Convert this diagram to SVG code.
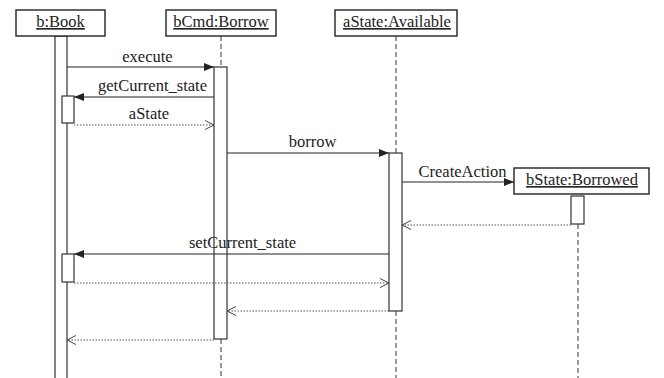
<svg xmlns="http://www.w3.org/2000/svg" width="664" height="378" viewBox="0 0 664 378">
  <style>
    text { font-family: "Liberation Serif", "Times New Roman", Times, Tinos, "Noto Serif", "DejaVu Serif", FreeSerif, serif; font-size: 16.5px; fill: #222; }
    .obj { text-anchor: middle; text-decoration: underline; }
    .lbl { text-anchor: middle; }
    .box { fill: #fff; stroke: #222; stroke-width: 1.4; }
    .bar { fill: #fff; stroke: #333; stroke-width: 1.2; }
    .life { stroke: #555; stroke-width: 1.2; stroke-dasharray: 5 3; fill: none; }
    .call { stroke: #222; stroke-width: 1.2; fill: none; }
    .ret { stroke: #555; stroke-width: 1.2; stroke-dasharray: 1.5 1.5; fill: none; }
  </style>
  <defs>
    <marker id="solid" markerWidth="10" markerHeight="8" refX="10" refY="4" orient="auto" markerUnits="userSpaceOnUse">
      <path d="M0,0 L10,4 L0,8 Z" fill="#222"/>
    </marker>
    <marker id="open" markerWidth="10" markerHeight="10" refX="9.5" refY="5" orient="auto" markerUnits="userSpaceOnUse">
      <path d="M0.5,0.5 L9.5,5 L0.5,9.5" fill="none" stroke="#444" stroke-width="1"/>
    </marker>
  </defs>

  <!-- lifelines -->
  <g id="lifelines">
    <line class="life" x1="221" y1="36" x2="221" y2="67"/>
    <line class="life" x1="221" y1="339" x2="221" y2="378"/>
    <line class="life" x1="396" y1="36" x2="396" y2="153"/>
    <line class="life" x1="396" y1="311" x2="396" y2="378"/>
    <line class="life" x1="578" y1="224" x2="578" y2="378"/>
  </g>

  <g id="book">
    <rect class="bar" x="55" y="36" width="12" height="350"/>
    <rect class="bar" x="62" y="96" width="12" height="27"/>
    <rect class="bar" x="62" y="254" width="12" height="28"/>
    <rect class="box" x="16" y="10" width="89" height="26"/>
    <text class="obj" x="60.5" y="27">b:Book</text>
  </g>

  <g id="borrowCmd">
    <rect class="bar" x="214" y="67" width="13" height="272"/>
    <rect class="box" x="166" y="10" width="110" height="26"/>
    <text class="obj" x="221" y="27">bCmd:Borrow</text>
  </g>

  <g id="available">
    <rect class="bar" x="389" y="153" width="13" height="158"/>
    <rect class="box" x="335" y="10" width="122" height="26"/>
    <text class="obj" x="397" y="27">aState:Available</text>
  </g>

  <g id="borrowed">
    <rect class="bar" x="571" y="196" width="13" height="28"/>
    <rect class="box" x="514" y="168" width="135" height="26"/>
    <text class="obj" x="582" y="185">bState:Borrowed</text>
  </g>

  <g id="messages">
    <line class="call" x1="67" y1="67" x2="214" y2="67" marker-end="url(#solid)"/>
    <text class="lbl" x="147.5" y="62">execute</text>

    <line class="call" x1="214" y1="97" x2="74" y2="97" marker-end="url(#solid)"/>
    <text class="lbl" x="152.5" y="91">getCurrent_state</text>

    <line class="ret" x1="74" y1="125" x2="214" y2="125" marker-end="url(#open)"/>
    <text class="lbl" x="149" y="119">aState</text>

    <line class="call" x1="227" y1="153" x2="389" y2="153" marker-end="url(#solid)"/>
    <text class="lbl" x="312.5" y="147">borrow</text>

    <line class="call" x1="402" y1="182" x2="514" y2="182" marker-end="url(#solid)"/>
    <text class="lbl" x="462.5" y="177">CreateAction</text>

    <line class="ret" x1="571" y1="225" x2="402" y2="225" marker-end="url(#open)"/>

    <line class="call" x1="389" y1="254" x2="74" y2="254" marker-end="url(#solid)"/>
    <text class="lbl" x="242.5" y="248">setCurrent_state</text>

    <line class="ret" x1="74" y1="283" x2="389" y2="283" marker-end="url(#open)"/>
    <line class="ret" x1="389" y1="311" x2="227" y2="311" marker-end="url(#open)"/>
    <line class="ret" x1="214" y1="340" x2="67" y2="340" marker-end="url(#open)"/>
  </g>
</svg>
